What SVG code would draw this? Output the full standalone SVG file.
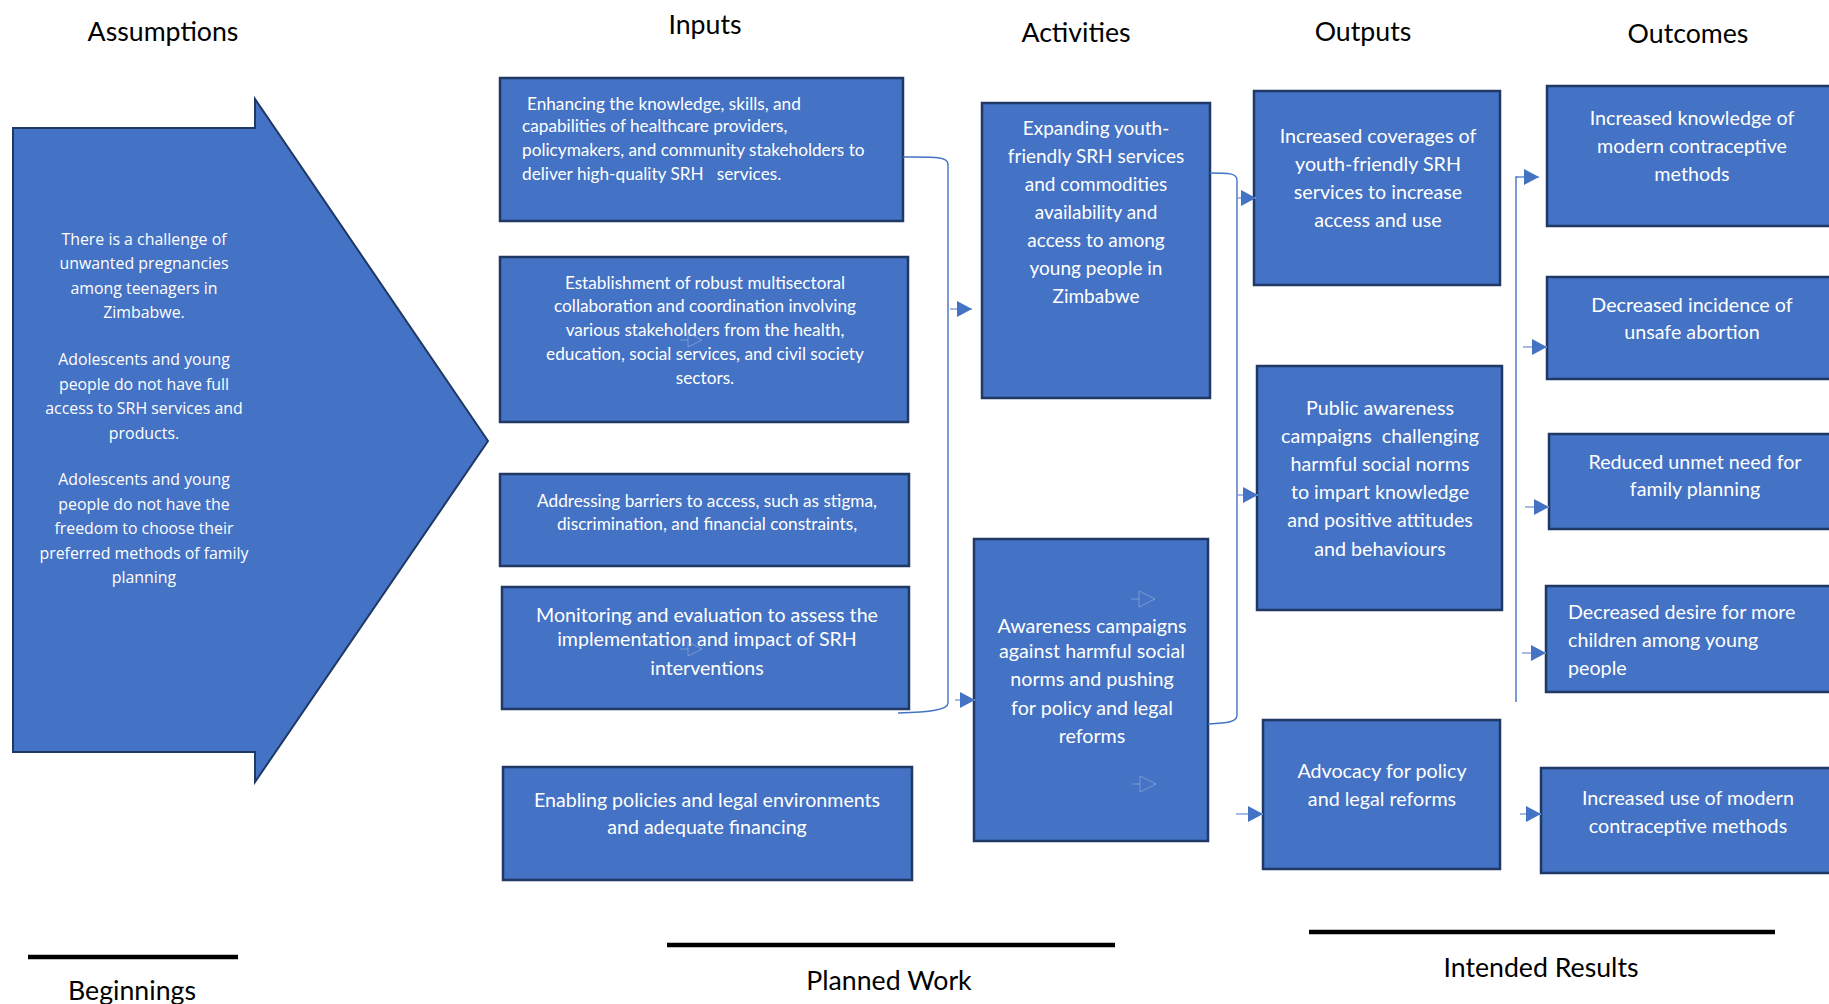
<svg xmlns="http://www.w3.org/2000/svg" width="1829" height="1004" viewBox="0 0 1829 1004">
<style>
.bg{fill:#ffffff}
.box{fill:#4472C4;stroke:#1F3864;stroke-width:2.5}
.big{fill:#4472C4;stroke:#1F3864;stroke-width:2}
.t{fill:#ffffff;font-family:Lato,"Open Sans",sans-serif;text-anchor:middle}
.s15{font-size:17.2px}
.s18{font-size:19.6px}
.s19{font-size:19px}
.s185{font-size:19.7px}
.as{fill:#ffffff;font-family:"Open Sans",Lato,sans-serif;font-size:15.9px;text-anchor:middle}
.hd{fill:#000000;font-family:Lato,"Open Sans",sans-serif;font-size:26.7px;text-anchor:middle}
.bar{stroke:#000000;stroke-width:4.5}
.con{fill:none;stroke:#4472C4;stroke-width:1.4}
.stub{fill:none;stroke:#8FAADC;stroke-width:1.6}
.ghost{fill:none;stroke:#8FAADC;stroke-width:1;opacity:0.7}
</style>
<defs>
<marker id="ah" markerUnits="userSpaceOnUse" markerWidth="16" markerHeight="18" refX="15" refY="9" orient="auto">
<path d="M0,1 L15,9 L0,17 Z" fill="#4472C4"/>
</marker>
</defs>
<rect class="bg" x="0" y="0" width="1829" height="1004"/>

<g id="headers">
<text class="hd" x="163" y="41">Assumptions</text>
<text class="hd" x="705" y="34">Inputs</text>
<text class="hd" x="1076" y="42">Activities</text>
<text class="hd" x="1363" y="41">Outputs</text>
<text class="hd" x="1688" y="43">Outcomes</text>
</g>

<g id="footers">
<line class="bar" x1="28" y1="957" x2="238" y2="957"/>
<text class="hd" x="132" y="1000">Beginnings</text>
<line class="bar" x1="667" y1="945" x2="1115" y2="945"/>
<text class="hd" x="889" y="990">Planned Work</text>
<line class="bar" x1="1309" y1="932" x2="1775" y2="932"/>
<text class="hd" x="1541" y="977">Intended Results</text>
</g>

<g id="assumptions">
<polygon class="big" points="13,128 255,128 255,99 488,441 255,782 255,752 13,752"/>
<text class="as" x="144" y="245">There is a challenge of</text>
<text class="as" x="144" y="269">unwanted pregnancies</text>
<text class="as" x="144" y="294">among teenagers in</text>
<text class="as" x="144" y="318">Zimbabwe.</text>
<text class="as" x="144" y="365">Adolescents and young</text>
<text class="as" x="144" y="390">people do not have full</text>
<text class="as" x="144" y="414">access to SRH services and</text>
<text class="as" x="144" y="439">products.</text>
<text class="as" x="144" y="485">Adolescents and young</text>
<text class="as" x="144" y="510">people do not have the</text>
<text class="as" x="144" y="534">freedom to choose their</text>
<text class="as" x="144" y="559">preferred methods of family</text>
<text class="as" x="144" y="583">planning</text>
</g>

<g id="input1">
<rect class="box" x="500" y="78" width="403" height="143"/>
<text class="t s15" style="text-anchor:start" x="527" y="110">Enhancing the knowledge, skills, and</text>
<text class="t s15" style="text-anchor:start" x="522" y="132">capabilities of healthcare providers,</text>
<text class="t s15" style="text-anchor:start" x="522" y="156">policymakers, and community stakeholders to</text>
<text class="t s15" style="text-anchor:start" x="522" y="180">deliver high-quality SRH&#160;&#160; services.</text>
</g>
<g id="input2">
<rect class="box" x="500" y="257" width="408" height="165"/>
<text class="t s15" x="705" y="289">Establishment of robust multisectoral</text>
<text class="t s15" x="705" y="312">collaboration and coordination involving</text>
<text class="t s15" x="705" y="336">various stakeholders from the health,</text>
<text class="t s15" x="705" y="360">education, social services, and civil society</text>
<text class="t s15" x="705" y="384">sectors.</text>
<path class="ghost" d="M680,340 H688 M688,333 V347 M688,333 L702,340 L688,347"/>
</g>
<g id="input3">
<rect class="box" x="500" y="474" width="409" height="92"/>
<text class="t s15" x="707" y="507">Addressing barriers to access, such as stigma,</text>
<text class="t s15" x="707" y="530">discrimination, and financial constraints,</text>
</g>
<g id="input4">
<rect class="box" x="502" y="587" width="407" height="122"/>
<text class="t s18" x="707" y="622">Monitoring and evaluation to assess the</text>
<text class="t s18" x="707" y="646">implementation and impact of SRH</text>
<text class="t s18" x="707" y="675">interventions</text>
<path class="ghost" d="M680,649 H688 M688,642 V656 M688,642 L702,649 L688,656"/>
</g>
<g id="input5">
<rect class="box" x="503" y="767" width="409" height="113"/>
<text class="t s18" x="707" y="807">Enabling policies and legal environments</text>
<text class="t s18" x="707" y="834">and adequate financing</text>
</g>

<g id="activity1">
<rect class="box" x="982" y="103" width="228" height="295"/>
<text class="t s19" x="1096" y="135">Expanding youth-</text>
<text class="t s19" x="1096" y="163">friendly SRH services</text>
<text class="t s19" x="1096" y="191">and commodities</text>
<text class="t s19" x="1096" y="219">availability and</text>
<text class="t s19" x="1096" y="247">access to among</text>
<text class="t s19" x="1096" y="275">young people in</text>
<text class="t s19" x="1096" y="303">Zimbabwe</text>
</g>
<g id="activity2">
<rect class="box" x="974" y="539" width="234" height="302"/>
<text class="t s185" x="1092" y="633">Awareness campaigns</text>
<text class="t s185" x="1092" y="658">against harmful social</text>
<text class="t s185" x="1092" y="686">norms and pushing</text>
<text class="t s185" x="1092" y="715">for policy and legal</text>
<text class="t s185" x="1092" y="743">reforms</text>
<path class="ghost" d="M1131,599 H1139 M1139,591 V607 M1139,591 L1155,599 L1139,607"/>
<path class="ghost" d="M1132,784 H1140 M1140,776 V792 M1140,776 L1156,784 L1140,792"/>
</g>

<g id="output1">
<rect class="box" x="1254" y="91" width="246" height="194"/>
<text class="t s185" x="1378" y="143">Increased coverages of</text>
<text class="t s185" x="1378" y="171">youth-friendly SRH</text>
<text class="t s185" x="1378" y="199">services to increase</text>
<text class="t s185" x="1378" y="227">access and use</text>
</g>
<g id="output2">
<rect class="box" x="1257" y="366" width="245" height="244"/>
<text class="t s185" x="1380" y="415">Public awareness</text>
<text class="t s185" x="1380" y="443">campaigns&#160; challenging</text>
<text class="t s185" x="1380" y="471">harmful social norms</text>
<text class="t s185" x="1380" y="499">to impart knowledge</text>
<text class="t s185" x="1380" y="527">and positive attitudes</text>
<text class="t s185" x="1380" y="556">and behaviours</text>
</g>
<g id="output3">
<rect class="box" x="1263" y="720" width="237" height="149"/>
<text class="t s185" x="1382" y="778">Advocacy for policy</text>
<text class="t s185" x="1382" y="806">and legal reforms</text>
</g>

<g id="outcome1">
<rect class="box" x="1547" y="86" width="290" height="140"/>
<text class="t s185" x="1692" y="125">Increased knowledge of</text>
<text class="t s185" x="1692" y="153">modern contraceptive</text>
<text class="t s185" x="1692" y="181">methods</text>
</g>
<g id="outcome2">
<rect class="box" x="1547" y="277" width="290" height="102"/>
<text class="t s185" x="1692" y="312">Decreased incidence of</text>
<text class="t s185" x="1692" y="339">unsafe abortion</text>
</g>
<g id="outcome3">
<rect class="box" x="1549" y="434" width="290" height="95"/>
<text class="t s185" x="1695" y="469">Reduced unmet need for</text>
<text class="t s185" x="1695" y="496">family planning</text>
</g>
<g id="outcome4">
<rect class="box" x="1546" y="586" width="290" height="106"/>
<text class="t s185" style="text-anchor:start" x="1568" y="619">Decreased desire for more</text>
<text class="t s185" style="text-anchor:start" x="1568" y="647">children among young</text>
<text class="t s185" style="text-anchor:start" x="1568" y="675">people</text>
</g>
<g id="outcome5">
<rect class="box" x="1541" y="768" width="295" height="105"/>
<text class="t s185" x="1688" y="805">Increased use of modern</text>
<text class="t s185" x="1688" y="833">contraceptive methods</text>
</g>

<g id="connectors">
<path class="con" d="M903,157 C930,157 948,156 948,164 L948,703 C948,710 930,712 898,713"/>
<path class="stub" d="M950,309 H972" marker-end="url(#ah)"/>
<path class="stub" d="M955,700 H975" marker-end="url(#ah)"/>
<path class="con" d="M1210,173 C1228,173 1237,173 1237,180 L1237,715 C1237,722 1228,723 1208,724"/>
<path class="stub" d="M1238,198 H1256" marker-end="url(#ah)"/>
<path class="stub" d="M1238,495 H1258" marker-end="url(#ah)"/>
<path class="stub" d="M1236,814 H1263" marker-end="url(#ah)"/>
<path class="con" d="M1516,702 L1516,177 H1524"/>
<path class="stub" d="M1518,177 H1539" marker-end="url(#ah)"/>
<path class="stub" d="M1523,347 H1547" marker-end="url(#ah)"/>
<path class="stub" d="M1525,507 H1549" marker-end="url(#ah)"/>
<path class="stub" d="M1522,653 H1546" marker-end="url(#ah)"/>
<path class="stub" d="M1520,814 H1541" marker-end="url(#ah)"/>
</g>
</svg>
